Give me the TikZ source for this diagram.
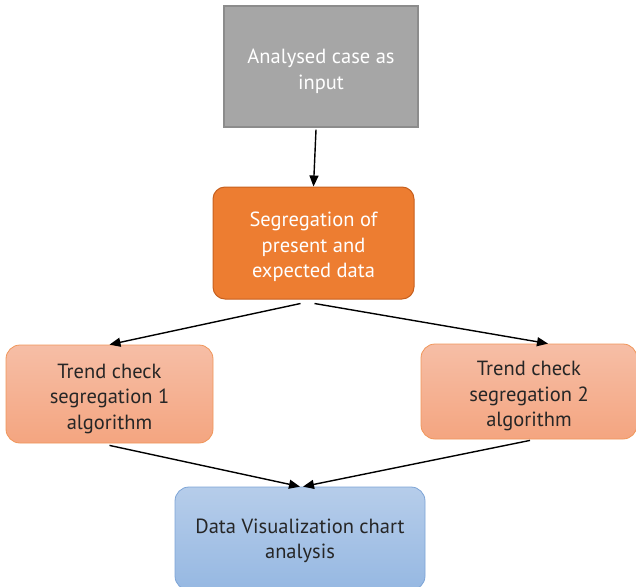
\documentclass[tikz,border=0pt]{standalone}
\usepackage{fontspec}
\setmainfont{PT Sans}
\usetikzlibrary{arrows.meta}
% invisible strut that lowers the first line of a box's text
\newcommand{\firstlift}[1]{\rule{0pt}{#1}}
\begin{document}
\begin{tikzpicture}[x=1pt,y=-1pt,
  box/.style={inner sep=0pt, align=center, font=\fontsize{20.5}{25.5}\selectfont},
  graybox/.style={box, draw=gray!110!black, line width=1.2pt, fill={rgb,255:red,166;green,166;blue,166}, text=white},
  orangebox/.style={box, draw={rgb,255:red,199;green,96;blue,30}, line width=1pt, rounded corners=12pt, fill={rgb,255:red,237;green,125;blue,49}, text=white},
  peachbox/.style={box, draw={rgb,255:red,240;green,150;blue,90}, line width=0.8pt, rounded corners=14pt, top color={rgb,255:red,246;green,190;blue,166}, bottom color={rgb,255:red,244;green,165;blue,128}, text={rgb,255:red,38;green,38;blue,38}},
  bluebox/.style={box, draw={rgb,255:red,125;green,164;blue,214}, line width=0.8pt, rounded corners=14pt, top color={rgb,255:red,182;green,205;blue,234}, bottom color={rgb,255:red,150;green,184;blue,226}, text={rgb,255:red,38;green,38;blue,38}},
  link/.style={line width=1.4pt, -{Triangle[length=11pt,width=9pt]}}
]
\useasboundingbox (0,0) rectangle (636,586);
\clip (0,0) rectangle (636,586);

% boxes
\node[graybox, minimum width=194pt, minimum height=121pt] (input) at (321,66.5) {\firstlift{24pt}Analysed case as\\input};
\node[orangebox, minimum width=201pt, minimum height=112pt] (seg) at (313.5,243) {\firstlift{23pt}Segregation of\\present and\\expected data};
\node[peachbox, minimum width=207pt, minimum height=98pt] (trend1) at (109.5,394) {\firstlift{24pt}Trend check\\segregation 1\\algorithm};
\node[peachbox, minimum width=216pt, minimum height=95pt] (trend2) at (529,391.5) {\firstlift{24pt}Trend check\\segregation 2\\algorithm};
\node[bluebox, minimum width=250pt, minimum height=103pt] (viz) at (300,538.5) {\firstlift{19pt}Data Visualization chart\\analysis};

% connectors
\draw[link] ([xshift=-5pt,yshift=-2pt]input.south) -- (seg.north);
\draw[link] ([xshift=-13pt,yshift=-4pt]seg.south) -- (trend1.north);
\draw[link] ([xshift=1pt,yshift=-4pt]seg.south) -- ([xshift=19pt]trend2.north);
\draw[link] ([yshift=-2pt]trend1.south) -- (viz.north);
\draw[link] ([xshift=1pt,yshift=-1pt]trend2.south) -- ([xshift=3pt]viz.north);
\end{tikzpicture}
\end{document}
